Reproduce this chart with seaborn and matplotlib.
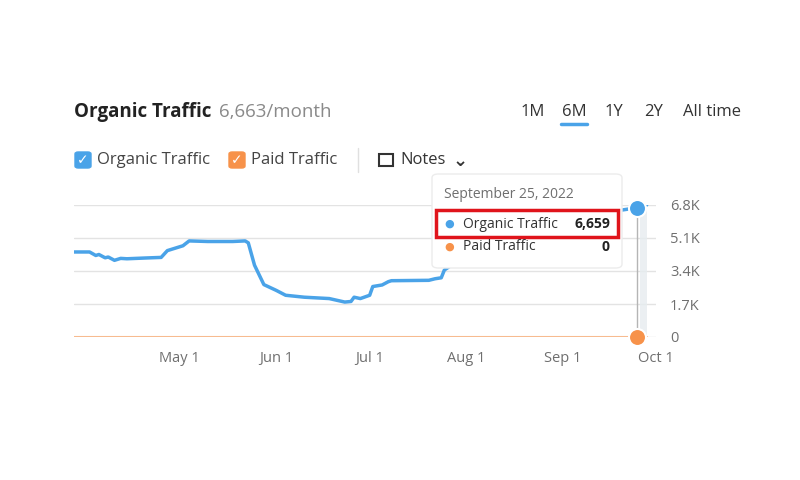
import numpy as np
import pandas as pd
import matplotlib
matplotlib.use("Agg")
import matplotlib.pyplot as plt
import matplotlib.patches as mpatches
import seaborn as sns

# values (hidden part under tooltip estimated)
key_dates = ["2022-03-28", "2022-04-02", "2022-04-04", "2022-04-05", "2022-04-07", "2022-04-08",
             "2022-04-10", "2022-04-12", "2022-04-14", "2022-04-20", "2022-04-25", "2022-04-27",
             "2022-04-30", "2022-05-02", "2022-05-04", "2022-05-10", "2022-05-18", "2022-05-22",
             "2022-05-23", "2022-05-25", "2022-05-28", "2022-06-01", "2022-06-04", "2022-06-10",
             "2022-06-18", "2022-06-23", "2022-06-25", "2022-06-26", "2022-06-28", "2022-07-01",
             "2022-07-02", "2022-07-05", "2022-07-07", "2022-07-08", "2022-07-20", "2022-07-22",
             "2022-07-24", "2022-07-25", "2022-08-10", "2022-09-10", "2022-09-25", "2022-09-26",
             "2022-09-28"]
organic = [4380, 4380, 4200, 4250, 4080, 4120, 3950, 4050, 4030, 4070, 4100, 4450,
           4600, 4700, 4950, 4920, 4920, 4950, 4850, 3700, 2700, 2400, 2150, 2050,
           1980, 1800, 1830, 2050, 1980, 2150, 2600, 2680, 2850, 2900, 2920, 3000,
           3050, 3450, 5200, 6300, 6659, 6800, 6800]
paid_start, paid_end = "2022-03-28", "2022-09-28"
hover_date = "2022-09-25"
hover_organic, hover_paid = 6659, 0
yticks = [0, 1700, 3400, 5100, 6800]
ytick_labels = ["0", "1.7K", "3.4K", "5.1K", "6.8K"]
xtick_dates = ["2022-05-01", "2022-06-01", "2022-07-01", "2022-08-01", "2022-09-01", "2022-10-01"]
xtick_labels = ["May 1", "Jun 1", "Jul 1", "Aug 1", "Sep 1", "Oct 1"]

blue = "#4aa3e8"
orange = "#f7924a"
grey_txt = "#6f6f6f"

sns.set_style("white")
plt.rcParams["font.family"] = ["Open Sans", "DejaVu Sans"]

df = pd.DataFrame({"date": pd.to_datetime(key_dates), "organic": organic})
paid = pd.DataFrame({"date": pd.to_datetime([paid_start, paid_end]), "paid": [0, 0]})

fig = plt.figure(figsize=(8, 4.8), dpi=100)
ax = fig.add_axes([0.0925, 1 - 337 / 480, 0.7275, 132 / 480])

x0 = pd.Timestamp("2022-03-28")
x1 = pd.Timestamp("2022-09-28")
ax.axvspan(pd.Timestamp("2022-09-26"), x1, color="#e6ecef", alpha=0.8, lw=0)
sns.lineplot(data=paid, x="date", y="paid", ax=ax, color=orange, lw=1.5, alpha=0.6)
sns.lineplot(data=df, x="date", y="organic", ax=ax, color=blue, lw=2.5)
hd = pd.Timestamp(hover_date)
ax.plot([hd, hd], [hover_paid, hover_organic], color="#b5b5b5", lw=1)
ax.scatter([hd], [hover_organic], s=150, color=blue, edgecolor="white", lw=1.5, zorder=5, clip_on=False)
ax.scatter([hd], [hover_paid], s=150, color=orange, edgecolor="white", lw=1.5, zorder=5, clip_on=False)

ax.set_xlim(x0, x1)
ax.set_ylim(0, 6800)
ax.set_yticks(yticks)
ax.set_yticklabels(ytick_labels)
ax.yaxis.tick_right()
ax.set_xticks(pd.to_datetime(xtick_dates))
ax.set_xticklabels(xtick_labels)
ax.tick_params(length=0, labelsize=10.5, labelcolor=grey_txt, pad=10)
ax.grid(axis="y", color="#e3e3e3", lw=1)
for s in ax.spines.values():
    s.set_visible(False)
ax.set_xlabel("")
ax.set_ylabel("")

# tooltip
tip = mpatches.FancyBboxPatch((432 / 800, 1 - 268 / 480), 190 / 800, 94 / 480,
                              boxstyle="round,pad=0,rounding_size=0.008", transform=fig.transFigure,
                              facecolor="white", edgecolor="#ececec", lw=1, zorder=10)
fig.patches.append(tip)
fig.text(444 / 800, 1 - 195 / 480, "September 25, 2022", fontsize=10, color=grey_txt, va="center", zorder=11)
fig.patches.append(mpatches.Rectangle((436 / 800, 1 - 237 / 480), 182 / 800, 27 / 480, transform=fig.transFigure,
                                      fill=False, edgecolor="#e0141b", lw=2.5, zorder=11))
fig.text(449 / 800, 1 - 224 / 480, "●", fontsize=8, color=blue, va="center", ha="center", zorder=12)
fig.text(463 / 800, 1 - 224 / 480, "Organic Traffic", fontsize=10, color="#333333", va="center", zorder=12)
fig.text(610 / 800, 1 - 224 / 480, f"{hover_organic:,}", fontsize=10, color="#222222", weight="bold",
         va="center", ha="right", zorder=12)
fig.text(449 / 800, 1 - 247 / 480, "●", fontsize=8, color=orange, va="center", ha="center", zorder=12)
fig.text(463 / 800, 1 - 247 / 480, "Paid Traffic", fontsize=10, color="#333333", va="center", zorder=12)
fig.text(610 / 800, 1 - 247 / 480, f"{hover_paid}", fontsize=10, color="#222222", weight="bold",
         va="center", ha="right", zorder=12)

# header
fig.text(74 / 800, 1 - 112 / 480, "Organic Traffic", fontsize=13.5, weight="bold", color="#222222", va="center")
fig.text(219 / 800, 1 - 112 / 480, "6,663/month", fontsize=13.5, color="#8a8a8a", va="center")
for lbl, xp in zip(["1M", "6M", "1Y", "2Y", "All time"], [521, 562, 605, 644, 683]):
    fig.text(xp / 800, 1 - 112 / 480, lbl, fontsize=12, color="#333333", va="center")
fig.add_artist(plt.Line2D([561 / 800, 587 / 800], [1 - 124 / 480] * 2, color=blue, lw=2.5))

# legend row
for col, xp, lbl in [(blue, 75, "Organic Traffic"), (orange, 229, "Paid Traffic")]:
    fig.patches.append(mpatches.FancyBboxPatch((xp / 800, 1 - 168 / 480), 16 / 800, 16 / 480,
                                               boxstyle="round,pad=0,rounding_size=0.004",
                                               transform=fig.transFigure, color=col))
    fig.text((xp + 8) / 800, 1 - 160 / 480, "✓", fontsize=10, color="white", weight="bold",
             ha="center", va="center", family="DejaVu Sans")
    fig.text((xp + 22) / 800, 1 - 160 / 480, lbl, fontsize=12, color="#444444", va="center")
fig.add_artist(plt.Line2D([358 / 800] * 2, [1 - 148 / 480, 1 - 172 / 480], color="#e0e0e0", lw=1))
fig.patches.append(mpatches.Rectangle((379 / 800, 1 - 166 / 480), 14 / 800, 12 / 480,
                                      transform=fig.transFigure, fill=False, edgecolor="#333333", lw=1.5))
fig.text(400 / 800, 1 - 160 / 480, "Notes", fontsize=12, color="#333333", va="center")
fig.text(453 / 800, 1 - 161 / 480, "⌄", fontsize=13, color="#333333", va="center", weight="bold",
         family="DejaVu Sans")

fig.savefig("out.png", dpi=100)
